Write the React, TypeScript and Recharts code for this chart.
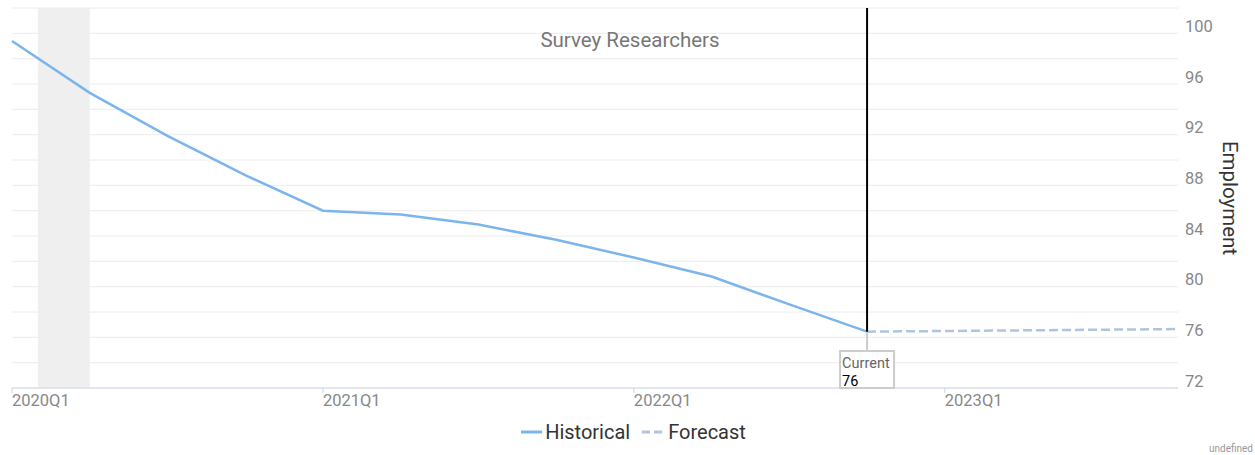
import React from 'react';
import {
  LineChart, Line, XAxis, YAxis, CartesianGrid, Legend,
  ReferenceArea, ReferenceLine, ReferenceDot,
} from 'recharts';

const quarters = [
  '2020Q1', '2020Q2', '2020Q3', '2020Q4',
  '2021Q1', '2021Q2', '2021Q3', '2021Q4',
  '2022Q1', '2022Q2', '2022Q3', '2022Q4',
  '2023Q1', '2023Q2', '2023Q3', '2023Q4',
];
const historical: (number | null)[] = [
  99.4, 95.3, 91.9, 88.8, 86.0, 85.7, 84.9, 83.7, 82.3, 80.8, 78.6, 76.45,
  null, null, null, null,
];
const forecast: (number | null)[] = [
  null, null, null, null, null, null, null, null, null, null, null, 76.45,
  76.5, 76.55, 76.6, 76.65,
];
const xTicks = [0, 4, 8, 12];
const yTicks = [72, 74, 76, 78, 80, 82, 84, 86, 88, 90, 92, 94, 96, 98, 100, 102];
const recessionStart = 1 / 3;
const recessionEnd = 1;
const currentIndex = 11;
const title = 'Survey Researchers';
const yLabel = 'Employment';

const data = quarters.map((q, i) => ({
  idx: i,
  q,
  historical: historical[i],
  forecast: forecast[i],
}));

const FONT = 'Roboto, "Noto Sans", sans-serif';

const XTick = (props: any) => {
  const { x, y, payload } = props;
  return (
    <text x={x} y={y + 13} fill="#888" fontSize={16.5} fontFamily={FONT} textAnchor="start">
      {quarters[payload.value]}
    </text>
  );
};

const YTick = (props: any) => {
  const { x, y, payload } = props;
  if (payload.value % 4 !== 0) return null;
  return (
    <text x={x} y={y - 7} dy="0.35em" fill="#888" fontSize={16.5} fontFamily={FONT} textAnchor="start">
      {payload.value}
    </text>
  );
};

const YLabel = (props: any) => {
  const vb = props.viewBox || {};
  const cx = (vb.x ?? 1178) + 52;
  const cy = 198;
  return (
    <text
      x={cx}
      y={cy}
      transform={`rotate(90 ${cx} ${cy})`}
      textAnchor="middle"
      dominantBaseline="central"
      fill="#333"
      fontSize={20.5}
      fontFamily={FONT}
    >
      {yLabel}
    </text>
  );
};

const CurrentBox = (props: any) => {
  const { cx, cy } = props;
  if (cx == null || cy == null) return null;
  const val = Math.round(historical[currentIndex] as number);
  return (
    <g>
      <rect x={cx - 27} y={cy - 37} width={54} height={37} fill="#fff" stroke="#cccccc" strokeWidth={2} />
      <text x={cx - 25} y={cy - 20} fill="#666" fontSize={14.5} fontFamily={FONT}>Current</text>
      <text x={cx - 25} y={cy - 2} fill="#000" fontSize={14.5} fontFamily={FONT}>{val}</text>
    </g>
  );
};

const LegendContent = () => (
  <div
    style={{
      display: 'flex',
      justifyContent: 'center',
      alignItems: 'center',
      height: 28,
      lineHeight: '28px',
      fontFamily: FONT,
      fontSize: 20,
      color: '#333',
    }}
  >
    <svg width={22} height={12} style={{ marginRight: 2 }}>
      <line x1={0} y1={6} x2={21} y2={6} stroke="#7cb5ec" strokeWidth={3} />
    </svg>
    <span style={{ marginRight: 12 }}>Historical</span>
    <svg width={22} height={12} style={{ marginRight: 4 }}>
      <line x1={0} y1={6} x2={20} y2={6} stroke="#b0c4de" strokeWidth={3} strokeDasharray="8 4" />
    </svg>
    <span>Forecast</span>
  </div>
);

export default function App() {
  return (
    <div style={{ position: 'absolute', left: 0, top: 0, width: 1255, height: 455, background: '#fff', fontFamily: FONT }}>
      <LineChart width={1255} height={455} data={data} margin={{ top: 8, right: 0, left: 12, bottom: 0 }}>
        <CartesianGrid vertical={false} stroke="#ececec" strokeWidth={1} />
        <ReferenceArea x1={recessionStart} x2={recessionEnd} y1={72} y2={102} fill="#efefef" fillOpacity={1} stroke="none" />
        <XAxis
          dataKey="idx"
          type="number"
          domain={[0, 15]}
          ticks={xTicks}
          interval={0}
          height={30}
          axisLine={{ stroke: '#ccd6eb' }}
          tickLine={{ stroke: '#ccd6eb' }}
          tickSize={5}
          tickMargin={0}
          tick={<XTick />}
        />
        <YAxis
          orientation="right"
          type="number"
          domain={[72, 102]}
          ticks={yTicks}
          interval={0}
          width={77}
          axisLine={false}
          tickLine={false}
          tickSize={0}
          tickMargin={7}
          tick={<YTick />}
          label={<YLabel />}
        />
        <Legend verticalAlign="bottom" height={37} content={<LegendContent />} />
        <Line
          type="linear"
          dataKey="historical"
          name="Historical"
          stroke="#7cb5ec"
          strokeWidth={2.5}
          dot={false}
          activeDot={false}
          isAnimationActive={false}
        />
        <Line
          type="linear"
          dataKey="forecast"
          name="Forecast"
          stroke="#b0c4de"
          strokeWidth={2.5}
          strokeDasharray="9 4"
          dot={false}
          activeDot={false}
          isAnimationActive={false}
        />
        <ReferenceLine
          segment={[{ x: currentIndex, y: 72 }, { x: currentIndex, y: historical[currentIndex] as number }]}
          stroke="#cccccc"
          strokeWidth={2}
        />
        <ReferenceLine
          segment={[{ x: currentIndex, y: historical[currentIndex] as number }, { x: currentIndex, y: 102 }]}
          stroke="#000"
          strokeWidth={2}
        />
        <ReferenceDot x={currentIndex} y={72} r={0} shape={<CurrentBox />} />
      </LineChart>
      <div style={{ position: 'absolute', left: 630, top: 28, transform: 'translateX(-50%)', fontSize: 20.5, color: '#777', whiteSpace: 'nowrap' }}>
        {title}
      </div>
      <div style={{ position: 'absolute', right: 2, top: 443, fontSize: 10, color: '#999' }}>undefined</div>
    </div>
  );
}
